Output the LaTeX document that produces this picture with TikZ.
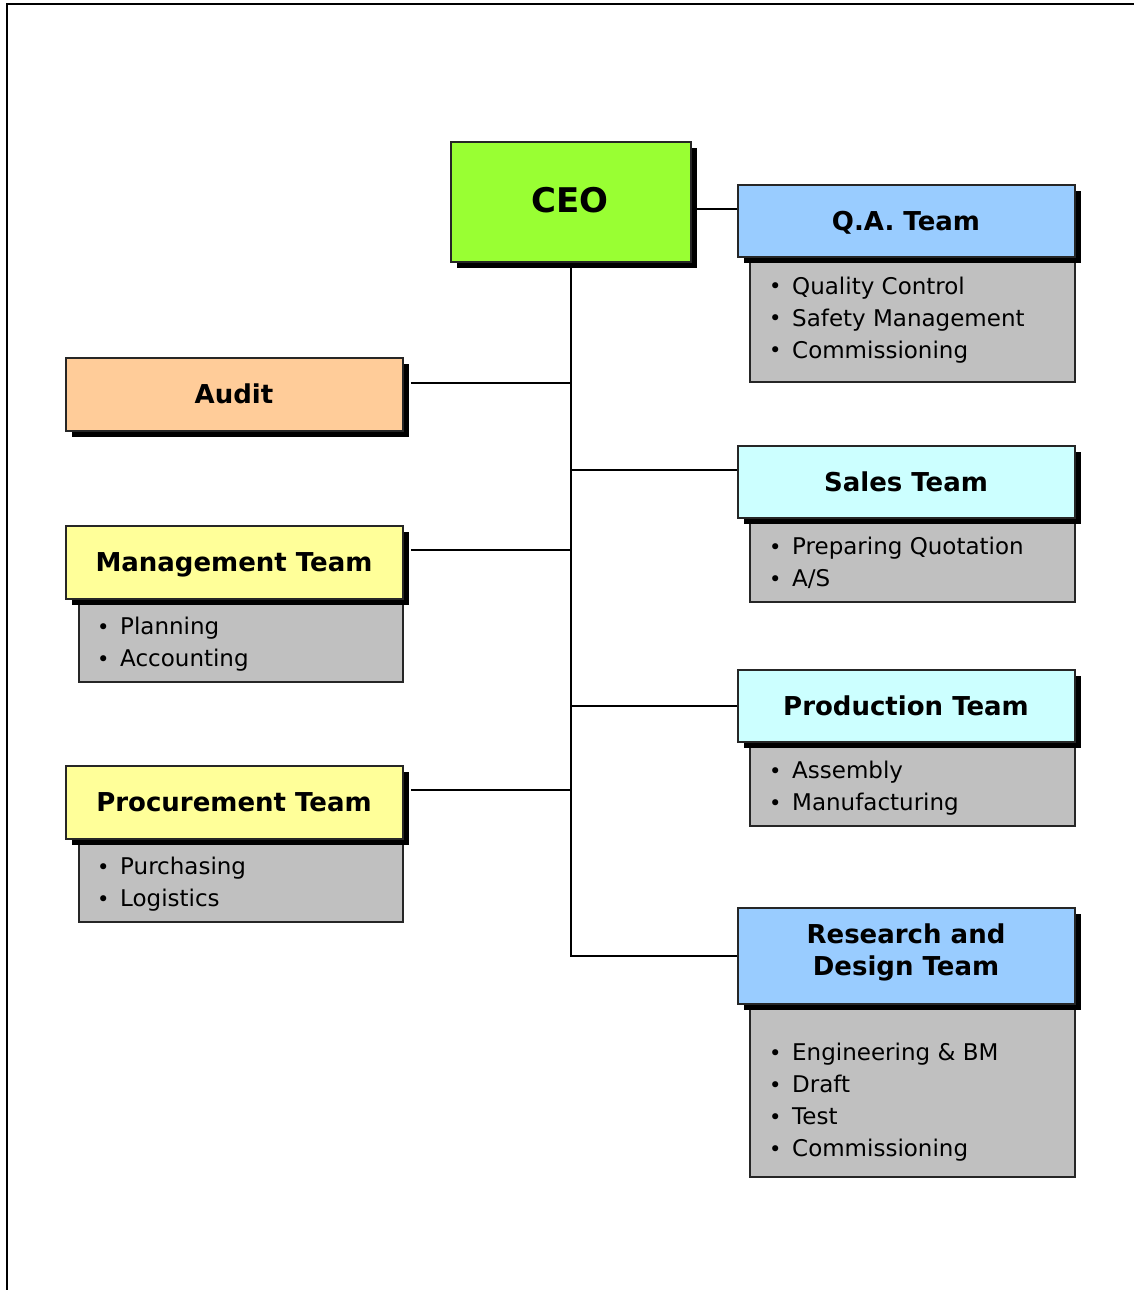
\documentclass[tikz,border=0pt]{standalone}
\usepackage{fontspec}
\setmainfont{DejaVu Sans}
\definecolor{ceogreen}{HTML}{99FF33}
\definecolor{hblue}{HTML}{99CCFF}
\definecolor{hcyan}{HTML}{CCFFFF}
\definecolor{horange}{HTML}{FFCC99}
\definecolor{hyellow}{HTML}{FFFF99}
\definecolor{lgray}{HTML}{C0C0C0}
\newcommand\orgshadowbox[6]{%
  \fill[black] (#2+6.5,#3+6.5) rectangle (#4+6.5,#5+6.5);
  \node[box, fill=#6, minimum width=#4-#2, minimum height=#5-#3] (#1) at (#2,#3) {};
}
\newcommand\orglistbox[5]{%
  \node[box, fill=lgray, minimum width=#4-#2, minimum height=#5-#3] (#1) at (#2,#3) {};
}
\newcommand\orgitems[4]{%
  \foreach \t [count=\i] in {#4}
    \node[item, name=#1-\i] at (#2,#3+32*\i-32) {\makebox[23pt][l]{\raisebox{0.5pt}{\fontsize{21}{21}\selectfont •}}\t};
}
\begin{document}
\begin{tikzpicture}[x=1pt,y=-1pt,
  box/.style={draw=black!85, line width=1.8pt, anchor=north west, inner sep=0pt},
  hdrtxt/.style={font=\fontsize{26}{32}\selectfont\bfseries, inner sep=0pt, text height=19pt, text depth=0pt, anchor=center},
  item/.style={font=\fontsize{23}{32}\selectfont, anchor=base west, inner sep=0pt},
  conn/.style={line width=1.8pt, black}]

\useasboundingbox (0,0) rectangle (1134,1290);
\fill[white] (0,0) rectangle (1134,1290);
\draw[line width=2.5pt] (7,1295) -- (7,4) -- (1140,4);

% list boxes
\orglistbox{qalist}{749}{250}{1074}{381}
\orglistbox{saleslist}{749}{511}{1074}{601}
\orglistbox{prodlist}{749}{735}{1074}{825}
\orglistbox{rdlist}{749}{997}{1074}{1176}
\orglistbox{mgmtlist}{78}{592}{402}{681}
\orglistbox{proclist}{78}{832}{402}{921}

% header boxes
\orgshadowbox{ceo}{450}{141}{690}{261}{ceogreen}
\orgshadowbox{qa}{737}{184}{1074}{256}{hblue}
\orgshadowbox{sales}{737}{445}{1074}{517}{hcyan}
\orgshadowbox{prod}{737}{669}{1074}{741}{hcyan}
\orgshadowbox{rd}{737}{907}{1074}{1003}{hblue}
\orgshadowbox{audit}{65}{357}{402}{430}{horange}
\orgshadowbox{mgmt}{65}{525}{402}{598}{hyellow}
\orgshadowbox{proc}{65}{765}{402}{838}{hyellow}

% connectors
\draw[conn] (ceo.south) -- (ceo.south |- rd.west) -- (rd.west);
\draw[conn] ([yshift=-7pt]ceo.east) -- ([yshift=-7pt]ceo.east -| qa.west);
\draw[conn] ([xshift=7pt,yshift=11.5pt]audit.east) -- ([yshift=11.5pt]audit.east -| ceo.south);
\draw[conn] ([xshift=7pt,yshift=12.5pt]mgmt.east) -- ([yshift=12.5pt]mgmt.east -| ceo.south);
\draw[conn] ([xshift=7pt,yshift=12.5pt]proc.east) -- ([yshift=12.5pt]proc.east -| ceo.south);
\draw[conn] ([yshift=12pt]sales.west) -- ([yshift=12pt]sales.west -| ceo.south);
\draw[conn] (prod.west) -- (prod.west -| ceo.south);

% titles
\node[hdrtxt, font=\fontsize{34}{40}\selectfont\bfseries, text height=25pt] (ceo-t) at (570,200) {CEO};
\node[hdrtxt] (qa-t) at (906,221) {Q.A. Team};
\node[hdrtxt] (sales-t) at (906,482) {Sales Team};
\node[hdrtxt] (prod-t) at (906,706) {Production Team};
\node[hdrtxt] (rd-t1) at (906,934) {Research and};
\node[hdrtxt] (rd-t2) at (906,966) {Design Team};
\node[hdrtxt] (audit-t) at (234,394) {Audit};
\node[hdrtxt] (mgmt-t) at (234,562) {Management Team};
\node[hdrtxt] (proc-t) at (234,802) {Procurement Team};

% items
\orgitems{qai}{769}{294}{Quality Control,Safety Management,Commissioning}
\orgitems{salesi}{769}{554.5}{Preparing Quotation,A/S}
\orgitems{prodi}{769}{778.5}{Assembly,Manufacturing}
\orgitems{rdi}{769}{1060.5}{Engineering \& BM,Draft,Test,Commissioning}
\orgitems{mgmti}{97}{634.5}{Planning,Accounting}
\orgitems{proci}{97}{874.5}{Purchasing,Logistics}
\end{tikzpicture}
\end{document}
